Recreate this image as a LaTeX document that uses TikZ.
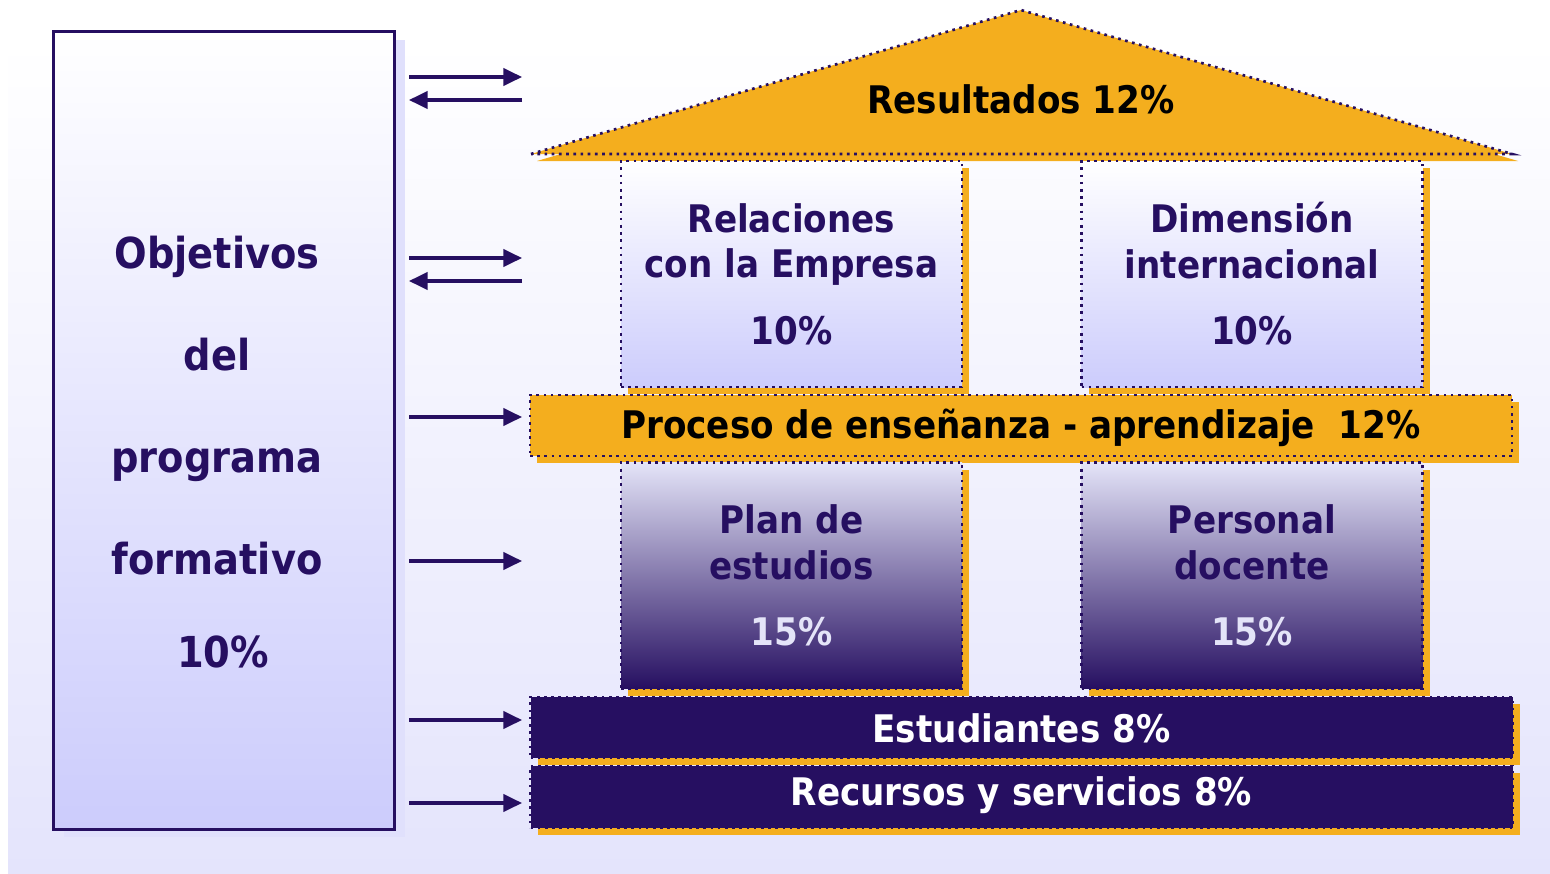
\documentclass[tikz,border=0pt]{standalone}
\usepackage{fontspec}
\setmainfont{DejaVu Sans Condensed}[BoldFont={DejaVu Sans Condensed Bold}]
\usetikzlibrary{arrows.meta,shadows}

\definecolor{ink}{HTML}{260F61}
\definecolor{gold}{HTML}{F4AE1E}
\definecolor{lilac}{HTML}{CCCCFC}
\definecolor{haze}{HTML}{E4E4FC}
\definecolor{mist}{HTML}{E4E4F8}
\definecolor{veil}{HTML}{E0E0FC}

\tikzset{every picture/.style={line width=0.75pt}}

\begin{document}
\begin{tikzpicture}[x=0.75pt,y=0.75pt,yscale=-1,xscale=1,
  font=\fontsize{28.5}{34}\selectfont\bfseries,
  dots/.style={draw=ink, line width=2pt, dash pattern=on 2pt off 3.4pt},
  goldshadow/.style={drop shadow={fill=gold, opacity=1, shadow xshift=5.25pt, shadow yshift=-5.25pt}},
  pillar/.style={dots, goldshadow, inner sep=0pt, align=center, text=ink,
    minimum width=255.75pt, minimum height=169.5pt},
  bar/.style={dots, goldshadow, inner sep=0pt, minimum width=736.5pt, minimum height=45.75pt},
  arr/.style={draw=ink, line width=2.4pt, -{Triangle[length=14pt,width=13pt]}}]
\useasboundingbox (0,0) rectangle (1550,874);

%Shape: Background
\shade[top color=white, bottom color=haze] (8,40) rectangle (1550,874);

%Shape: Left box
\node[draw=ink, line width=2.25pt, top color=white, bottom color=lilac, inner sep=0pt,
  minimum width=255.75pt, minimum height=597.75pt,
  drop shadow={fill=veil, opacity=1, shadow xshift=8.25pt, shadow yshift=-6pt}] (obj) at (223.5,430.5) {};
% Text Node
\node[align=center, text=ink, font=\fontsize{32}{76.5}\selectfont\bfseries] (objtxt) at (217,452)
  {Objetivos\\del\\programa\\formativo\\[-7pt]\hspace{9pt}10\%};

%Shape: Roof
\fill[gold] (537,161) -- (1027,17) -- (1518,161) -- cycle;
\path[fill=gold, dots] (531,154) -- (1021,10) -- (1512,154) -- cycle;
% Text Node
\node[text=black] (res) at (1021,99) {Resultados 12\%};

%Shape: Upper pillars
\node[pillar, top color=white, bottom color=lilac] (rel) at (791.5,274)
  {Relaciones\\con la Empresa\\[16pt]10\%};
\node[pillar, top color=white, bottom color=lilac] (dim) at (1252,274)
  {Dimensión\\internacional\\[16pt]10\%};

%Shape: Middle bar
\node[bar, fill=gold, text=black, text height=22pt, text depth=3.2pt] (proc) at (1021,425.5)
  {Proceso de enseñanza - aprendizaje~ 12\%};

%Shape: Lower pillars
\node[pillar, top color=mist, bottom color=ink] (plan) at (791.5,575.5)
  {Plan de\\estudios\\[16pt]\textcolor{mist}{15\%}};
\node[pillar, top color=mist, bottom color=ink] (pers) at (1252,575.5)
  {Personal\\docente\\[16pt]\textcolor{mist}{15\%}};

%Shape: Base bars
\node[bar, fill=ink, text=white, text height=23.2pt, text depth=0pt] (est) at (1021.5,727.5) {Estudiantes 8\%};
\node[bar, fill=ink, text=white, text height=21pt, text depth=8.2pt, minimum height=46.5pt] (rec) at (1021.5,797) {Recursos y servicios 8\%};

%Arrows
\foreach \y [count=\i] in {77,258,417,561,720,803} {
  \coordinate (a\i) at (409,\y);
  \coordinate (b\i) at (522,\y);
  \draw[arr] (a\i) -- (b\i);
}
\foreach \y [count=\i] in {100,281} {
  \coordinate (c\i) at (522,\y);
  \coordinate (d\i) at (409,\y);
  \draw[arr] (c\i) -- (d\i);
}

\end{tikzpicture}
\end{document}
